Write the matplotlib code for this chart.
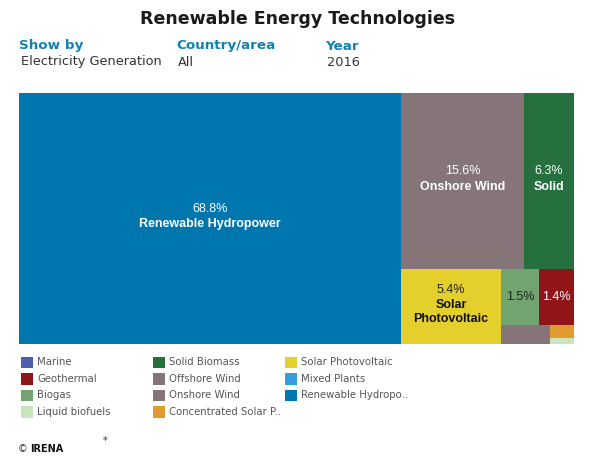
import matplotlib
matplotlib.use('Agg')
import matplotlib.pyplot as plt
from matplotlib.patches import Rectangle

# shares in percent
hydro = 68.8
onshore = 15.6
solid = 6.3
solar = 5.4
biogas = 1.5
geo = 1.4
offshore = 0.67
csp = 0.22
liquid = 0.11

BLUE = '#0076ae'
GRAY = '#857579'
GREEN = '#26703f'
YELLOW = '#e5cf2c'
SAGE = '#72a46f'
RED = '#8f1518'
ORANGE = '#e09c2e'
PALE = '#c9e4bf'
MARINE = '#4a5fae'
MIXED = '#34a0db'

legend_names = [['Marine', 'Geothermal', 'Biogas', 'Liquid biofuels'],
                ['Solid Biomass', 'Offshore Wind', 'Onshore Wind', 'Concentrated Solar P..'],
                ['Solar Photovoltaic', 'Mixed Plants', 'Renewable Hydropo..']]
legend_cols = [[MARINE, RED, SAGE, PALE],
               [GREEN, GRAY, GRAY, ORANGE],
               [YELLOW, MIXED, BLUE]]

fig = plt.figure(figsize=(6.06, 4.75), dpi=100)

# page axes in pixels, for the header and the legend
page = fig.add_axes([0, 0, 1, 1])
page.set_xlim(0, 606)
page.set_ylim(475, 0)
page.axis('off')

page.text(298, 19, 'Renewable Energy Technologies', ha='center', va='center',
          fontsize=12.5, fontweight='bold', color='#1a1a1a')
for x, head, val in [(19, 'Show by', 'Electricity Generation'),
                     (176, 'Country/area', 'All'),
                     (325, 'Year', '2016')]:
    page.text(x, 46, head, va='center', fontsize=9.7, fontweight='bold', color='#1380b4')
    page.text(x + 2, 62, val, va='center', fontsize=9.3, color='#333333')

for col, x in enumerate([21, 153, 285]):
    for row, name in enumerate(legend_names[col]):
        y = 362 + row * 16.6
        page.add_patch(Rectangle((x, y - 5.5), 11.5, 11.5, fc=legend_cols[col][row], ec='none'))
        page.text(x + 16, y, name, va='center', fontsize=7.3, color='#555555')

page.text(18, 449, '©', va='center', fontsize=7, color='#333333')
page.text(30, 449, 'IRENA', va='center', fontsize=7, fontweight='bold', color='#111111')
page.text(105, 441, '*', va='center', ha='center', fontsize=7, color='#333333')

# treemap, data units are percent of width and height
ax = fig.add_axes([19 / 606, 1 - 344 / 475, 555 / 606, 251 / 475])
ax.set_xlim(0, 100)
ax.set_ylim(100, 0)
ax.axis('off')


def box(x, y, w, h, color):
    ax.add_patch(Rectangle((x, y), w, h, fc=color, ec='none'))
    return x + w / 2, y + h / 2


rest = onshore + solid + solar + biogas + geo + offshore + csp + liquid
total = hydro + rest
x0 = hydro / total * 100
w0 = 100 - x0

hydro_c = box(0, 0, x0, 100, BLUE)

top = onshore + solid
h_top = top / rest * 100
w_on = onshore / top * w0
on_c = box(x0, 0, w_on, h_top, GRAY)
solid_c = box(x0 + w_on, 0, w0 - w_on, h_top, GREEN)

low = rest - top
h_low = 100 - h_top
w_sol = solar / low * w0
sol_c = box(x0, h_top, w_sol, h_low, YELLOW)

x1 = x0 + w_sol
w1 = w0 - w_sol
rem = low - solar
mid = biogas + geo
h_mid = mid / rem * h_low
w_bio = biogas / mid * w1
bio_c = box(x1, h_top, w_bio, h_mid, SAGE)
geo_c = box(x1 + w_bio, h_top, w1 - w_bio, h_mid, RED)

y2 = h_top + h_mid
h2 = 100 - y2
tail = offshore + csp + liquid
w_off = offshore / tail * w1
box(x1, y2, w_off, h2, GRAY)
h_csp = csp / (csp + liquid) * h2
box(x1 + w_off, y2, w1 - w_off, h_csp, ORANGE)
box(x1 + w_off, y2 + h_csp, w1 - w_off, h2 - h_csp, PALE)

SANS = 'Liberation Sans'


def label(c, pct, name, color, dy=0):
    if name:
        ax.annotate(f'{pct}%', c, xytext=(0, 8 + dy), textcoords='offset points', ha='center', va='center',
                    fontsize=9, family=SANS, color=color)
        ax.annotate(name, c, xytext=(0, -3 + dy), textcoords='offset points', ha='center', va='center',
                    fontsize=9, family=SANS, fontweight='bold', color=color)
    else:
        ax.annotate(f'{pct}%', c, ha='center', va='center', fontsize=9, family=SANS, color=color)


label(hydro_c, hydro, 'Renewable Hydropower', 'white', dy=-1)
label(on_c, onshore, 'Onshore Wind', 'white', dy=-1)
label(solid_c, solid, 'Solid', 'white', dy=-1)
label(bio_c, biogas, None, '#1e2a1e')
label(geo_c, geo, None, 'white')
ax.annotate(f'{solar}%', sol_c, xytext=(0, 12), textcoords='offset points', ha='center', va='center',
            fontsize=9, family=SANS, color='#222222')
ax.annotate('Solar\nPhotovoltaic', sol_c, xytext=(0, -4), textcoords='offset points', ha='center', va='center',
            fontsize=9, family=SANS, fontweight='bold', color='#111111', linespacing=1.15)

fig.savefig('out.png', dpi=100, facecolor='white')
